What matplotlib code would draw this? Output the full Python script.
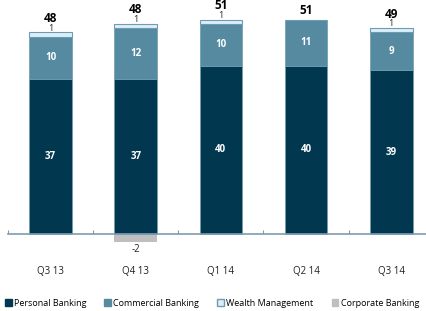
import numpy as np
import matplotlib
matplotlib.use('Agg')
import matplotlib.pyplot as plt
from matplotlib.patches import Patch

###############################################################################
# Data
quarters = ['Q3 13', 'Q4 13', 'Q1 14', 'Q2 14', 'Q3 14']
personal = [37, 37, 40, 40, 39]
commercial = [10, 12, 10, 11, 9]
wealth = [1, 1, 1, 0, 1]
corporate = [0, -2, 0, 0, 0]
totals = [48, 48, 51, 51, 49]

c_personal = '#02384F'
c_commercial = '#558AA1'
c_wealth = '#DCEFF8'
c_corporate = '#BFBFBF'
c_edge = '#6E9BB1'

plt.rcParams['font.family'] = ['Open Sans', 'DejaVu Sans']

###############################################################################
# Plot
fig = plt.figure(figsize=(4.27, 3.11), dpi=100)
ax = fig.add_axes([8 / 427, 61 / 311, 419 / 427, 250 / 311])

x = np.arange(len(quarters))
w = 0.5
personal = np.array(personal)
commercial = np.array(commercial)
wealth = np.array(wealth)

ax.bar(x, personal, w, color=c_personal, edgecolor=c_edge, linewidth=0.5, zorder=2)
ax.bar(x, commercial, w, bottom=personal, color=c_commercial, edgecolor=c_edge,
       linewidth=0.5, zorder=2)
ax.bar(x, wealth, w, bottom=personal + commercial, color=c_wealth,
       edgecolor=c_edge, linewidth=0.8, zorder=2)
ax.bar(x, corporate, w, color=c_corporate, linewidth=0, zorder=1)

for i in range(len(quarters)):
    ax.text(x[i], personal[i] / 2, str(personal[i]), ha='center', va='center',
            color='white', fontsize=7, fontweight='bold')
    ax.text(x[i], personal[i] + commercial[i] / 2, str(commercial[i]), ha='center',
            va='center', color='white', fontsize=7, fontweight='bold')
    top = personal[i] + commercial[i] + wealth[i]
    if wealth[i] > 0:
        ax.text(x[i], top + 1.0, str(wealth[i]), ha='center', va='center',
                color='#222222', fontsize=6.5)
        ax.text(x[i], top + 3.35, str(totals[i]), ha='center', va='center',
                color='black', fontsize=8.5, fontweight='bold')
    else:
        ax.text(x[i], top + 2.2, str(totals[i]), ha='center', va='center',
                color='black', fontsize=8.5, fontweight='bold')
    if corporate[i] < 0:
        ax.text(x[i], corporate[i] - 1.6, str(corporate[i]), ha='center', va='center',
                color='#222222', fontsize=7)

ax.set_xlim(-0.5, 4.42)
ax.set_ylim(-3.81, 55.71)
for s in ['top', 'right', 'left']:
    ax.spines[s].set_visible(False)
ax.spines['bottom'].set_position(('data', 0))
ax.spines['bottom'].set_color('#7F9DB0')
ax.spines['bottom'].set_linewidth(1.2)
ax.spines['bottom'].set_zorder(3)
ax.set_yticks([])
ax.set_xticks(x)
ax.set_xticklabels(quarters, fontsize=7, color='#222222')
ax.tick_params(axis='x', which='major', length=0, pad=23)
ax.set_xticks(np.arange(-0.5, 4.5, 1.0), minor=True)
ax.tick_params(axis='x', which='minor', direction='in', length=3, width=0.8,
               color='#7F9DB0')

handles = [Patch(facecolor=c_personal, edgecolor=c_personal),
           Patch(facecolor=c_commercial, edgecolor=c_commercial),
           Patch(facecolor=c_wealth, edgecolor=c_edge),
           Patch(facecolor=c_corporate, edgecolor=c_corporate)]
labels = ['Personal Banking', 'Commercial Banking', 'Wealth Management', 'Corporate Banking']
fig.legend(handles, labels, loc='center left', bbox_to_anchor=(3 / 427, 8 / 311), ncol=4,
           frameon=False, fontsize=6.5, handlelength=0.75, handleheight=0.75,
           handletextpad=0.25, columnspacing=2.0, borderaxespad=0, borderpad=0.2)

plt.savefig('out.png', dpi=100)
